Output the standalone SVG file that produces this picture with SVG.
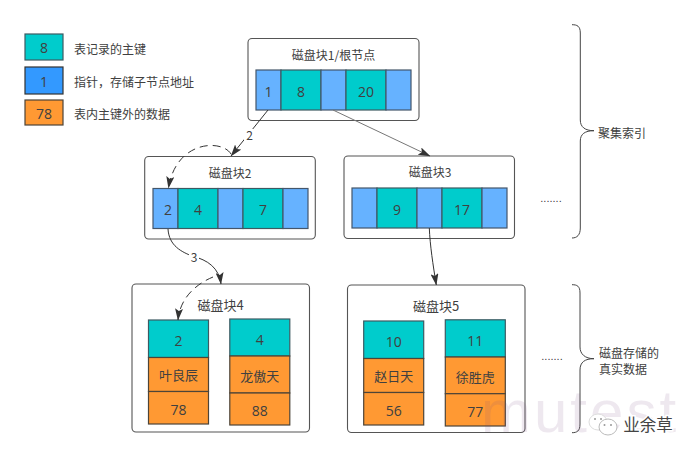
<svg xmlns="http://www.w3.org/2000/svg" width="696" height="457" viewBox="0 0 696 457">
<style>
text{font-family:"Noto Sans CJK SC","Liberation Sans",sans-serif;font-size:12px;fill:#404040;text-anchor:middle}
.n{font-family:"Open Sans","Liberation Sans",sans-serif;font-size:14px;dominant-baseline:central}
.c{font-size:12px;dominant-baseline:central}
.m{font-size:13px;dominant-baseline:central}
.l{text-anchor:start;dominant-baseline:central}
.box{fill:#fff;stroke:#555;stroke-width:1.1}
.t{fill:#00cccc;stroke:#3c5a62;stroke-width:1.2}
.b{fill:#66b2ff;stroke:#44566b;stroke-width:1.2}
.o{fill:#ff9933;stroke:#4d4438;stroke-width:1.2}
.lnk{fill:none;stroke:#333;stroke-width:1}
.br{fill:none;stroke:#444;stroke-width:1}
</style>
<defs>
<marker id="a" viewBox="0 0 12 8" refX="11.500" refY="4" markerWidth="12" markerHeight="8" markerUnits="userSpaceOnUse" orient="auto"><path d="M0 0L12 4L0 8L2.500 4Z" fill="#333"/></marker>
</defs>

<g id="legend">
<rect class="t" x="25" y="34" width="38" height="26"/><text class="n" x="44" y="47">8</text>
<rect x="25" y="67" width="38" height="27" fill="#3399ff" stroke="#333" stroke-width="1.2"/><text class="n" x="44" y="81">1</text>
<rect class="o" x="25" y="100" width="38" height="25"/><text class="n" x="44" y="113">78</text>
<text class="l" x="74" y="48">表记录的主键</text>
<text class="l" x="74" y="81">指针，存储子节点地址</text>
<text class="l" x="74" y="113">表内主键外的数据</text>
</g>

<g id="node1">
<rect class="box" x="248" y="38.500" width="171" height="82" rx="4"/>
<text class="c" x="333.500" y="54">磁盘块1/根节点</text>
<rect class="b" x="256" y="70" width="25" height="40"/><rect class="t" x="281" y="70" width="40" height="40"/><rect class="b" x="321" y="70" width="25" height="40"/><rect class="t" x="346" y="70" width="40" height="40"/><rect class="b" x="386" y="70" width="25" height="40"/>
<text class="n" x="268.500" y="91">1</text><text class="n" x="301" y="91">8</text><text class="n" x="366" y="91">20</text>
</g>

<g id="node2">
<rect class="box" x="144.700" y="156.500" width="170.600" height="82.500" rx="4"/>
<text class="c" x="230" y="172">磁盘块2</text>
<rect class="b" x="153" y="188.500" width="25" height="40"/><rect class="t" x="178" y="188.500" width="40" height="40"/><rect class="b" x="218" y="188.500" width="25" height="40"/><rect class="t" x="243" y="188.500" width="40" height="40"/><rect class="b" x="283" y="188.500" width="25" height="40"/>
<text class="n" x="168" y="209">2</text><text class="n" x="198" y="209">4</text><text class="n" x="263" y="209">7</text>
</g>

<g id="node3">
<rect class="box" x="344" y="156" width="170.500" height="82.500" rx="4"/>
<text class="c" x="430" y="171">磁盘块3</text>
<rect class="b" x="352" y="188" width="25" height="40"/><rect class="t" x="377" y="188" width="40" height="40"/><rect class="b" x="417" y="188" width="25" height="40"/><rect class="t" x="442" y="188" width="40" height="40"/><rect class="b" x="482" y="188" width="25" height="40"/>
<text class="n" x="397" y="209">9</text><text class="n" x="462" y="209">17</text>
</g>

<g id="node4">
<rect class="box" x="132" y="284" width="177.500" height="148" rx="4"/>
<text class="m" x="220.500" y="304.500">磁盘块4</text>
<rect class="t" x="148.500" y="320" width="60" height="37.500"/><rect class="o" x="148.500" y="357.500" width="60" height="34"/><rect class="o" x="148.500" y="391.500" width="60" height="32.500"/>
<text class="n" x="178.500" y="340">2</text><text class="m" x="178.500" y="374">叶良辰</text><text class="n" x="178.500" y="409">78</text>
<rect class="t" x="229.800" y="319" width="60" height="37"/><rect class="o" x="229.800" y="356" width="60" height="37"/><rect class="o" x="229.800" y="393" width="60" height="32"/>
<text class="n" x="259.800" y="339">4</text><text class="m" x="259.800" y="375">龙傲天</text><text class="n" x="259.800" y="410">88</text>
</g>

<g id="node5">
<rect class="box" x="347.500" y="285" width="177.500" height="147.500" rx="4"/>
<text class="m" x="436" y="305.500">磁盘块5</text>
<rect class="t" x="363.700" y="321" width="60" height="37.500"/><rect class="o" x="363.700" y="358.500" width="60" height="34"/><rect class="o" x="363.700" y="392.500" width="60" height="32.500"/>
<text class="n" x="393.700" y="341">10</text><text class="m" x="393.700" y="375">赵日天</text><text class="n" x="393.700" y="410">56</text>
<rect class="t" x="445.300" y="319.800" width="60" height="37.200"/><rect class="o" x="445.300" y="357" width="60" height="36.700"/><rect class="o" x="445.300" y="393.700" width="60" height="32.300"/>
<text class="n" x="475.300" y="340">11</text><text class="m" x="475.300" y="376">徐胜虎</text><text class="n" x="475.300" y="411">77</text>
</g>

<g id="connectors">
<path class="lnk" d="M268 110L231 156" marker-end="url(#a)"/>
<rect x="244" y="129" width="10" height="13" fill="#fff"/>
<text class="c" x="249.500" y="134.500">2</text>
<path d="M333 110L430 156" fill="none" stroke="#777" stroke-width="1" marker-end="url(#a)"/>
<path class="lnk" stroke-dasharray="8 5" d="M231 154C222 139 176 140 168.500 188" marker-end="url(#a)"/>
<path class="lnk" d="M168 229C169 246 182 252 192 256C208 260 219 268 221 284" marker-end="url(#a)"/>
<rect x="189" y="250" width="10" height="14" fill="#fff"/>
<text class="c" x="194" y="256.500">3</text>
<path class="lnk" stroke-dasharray="8 5" d="M213 277C196 284 180 298 178 320" marker-end="url(#a)"/>
<path class="lnk" d="M429.300 228C430 245 433 265 436.300 285" marker-end="url(#a)"/>
</g>

<g id="brace1">
<path class="br" d="M572 24.700C577 24.700 580.300 26 580.300 33V120C580.300 127 585 130.700 594 130.700C585 130.700 580.300 134 580.300 141V228C580.300 235 577 238 572 238"/>
<text class="l" x="598" y="132">聚集索引</text>
</g>
<g id="brace2">
<path class="br" d="M572 284.700C577 284.700 580 286 580 293V347C580 354 585 358.700 594 358.700C585 358.700 580 362 580 370V424C580 431 577 432.700 572 432.700"/>
<text class="l" x="599" y="352">磁盘存储的</text>
<text class="l" x="599" y="368">真实数据</text>
</g>
<text id="dots1" x="551" y="202" style="font-family:'Liberation Sans',sans-serif;font-size:11px">.......</text>
<text id="dots2" x="552" y="360" style="font-family:'Liberation Sans',sans-serif;font-size:11px">.......</text>

<text id="watermark" x="481" y="432" style="font-family:'Liberation Sans',sans-serif;font-size:60px;fill:#7a4a80;fill-opacity:.13;letter-spacing:3px;text-anchor:start">mutest</text>

<g id="wechat">
<ellipse cx="598" cy="422" rx="9" ry="8" fill="#fff" stroke="#ddd"/>
<ellipse cx="608" cy="427" rx="9" ry="8" fill="#fff" stroke="#bbb"/>
<circle cx="604.500" cy="425" r="1" fill="#999"/><circle cx="611" cy="425" r="1" fill="#999"/>
<circle cx="595" cy="419" r="1" fill="#999"/><circle cx="601" cy="419" r="1" fill="#999"/>
<text x="648" y="431" style="font-size:16.500px;fill:#444;stroke:#fff;stroke-width:3px;paint-order:stroke">业余草</text>
</g>
</svg>
